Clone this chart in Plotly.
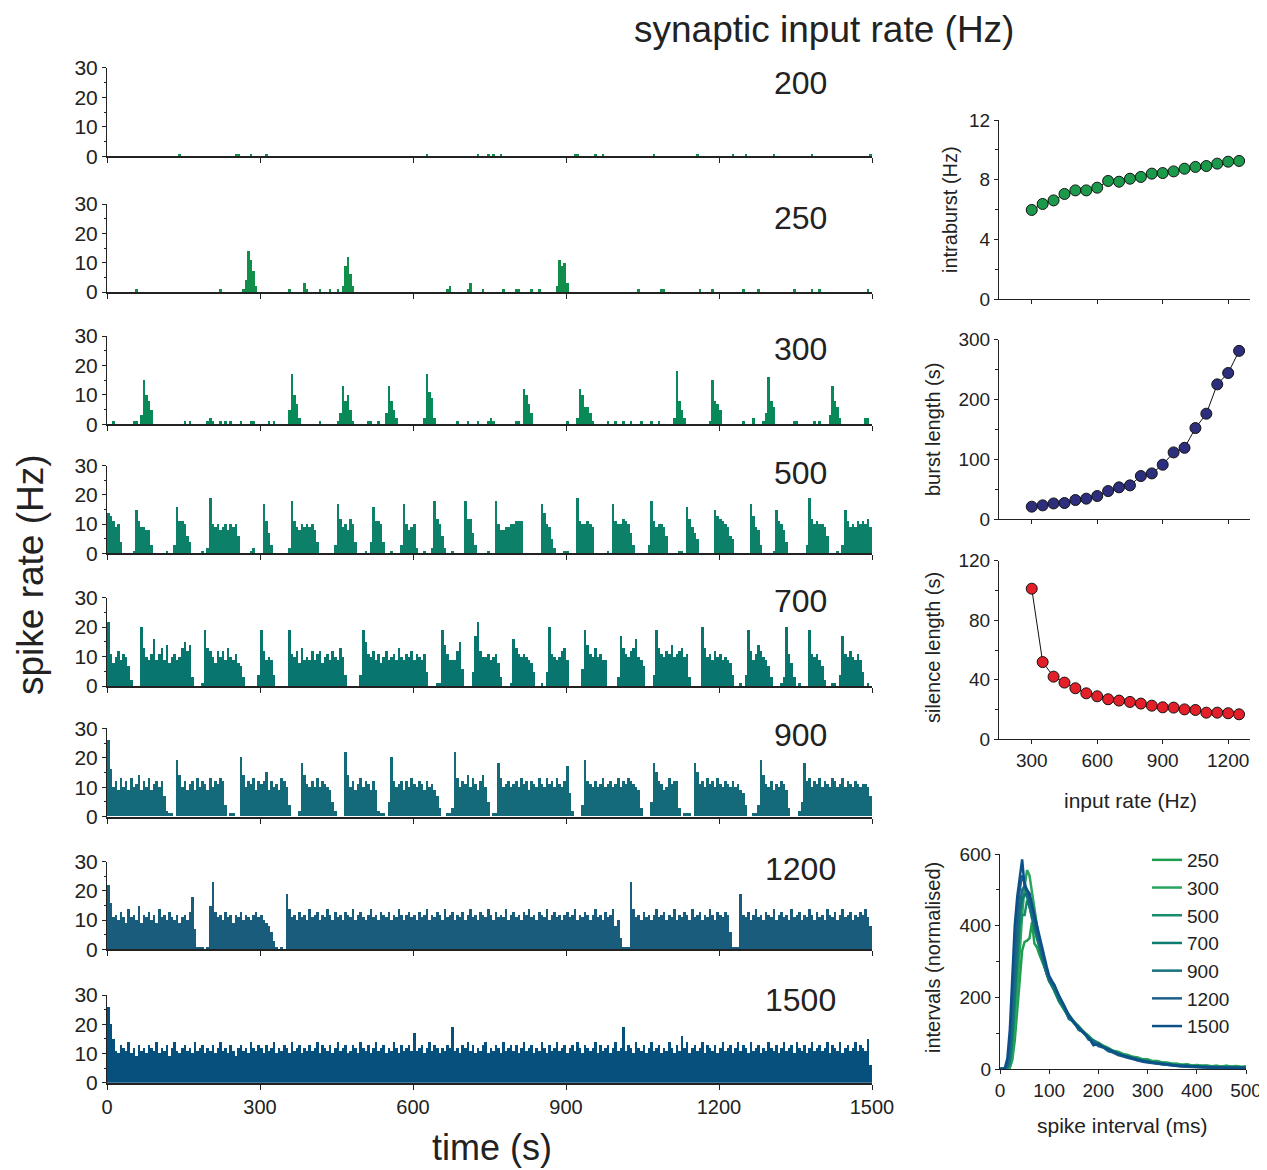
import plotly.graph_objects as go

# The page body adds an 8 px margin, so the figure is 8 px smaller and all
# pixel positions below (measured on the 1267x1170 target) are shifted by 8 px.
PAGE_W, PAGE_H = 1267, 1170
OFF = 8
W, H = PAGE_W - OFF, PAGE_H - OFF
FONT = "Liberation Sans, Arial, Helvetica, sans-serif"
INK = "#222222"

# ---------------------------------------------------------------- left panels
input_rates = [200, 250, 300, 500, 700, 900, 1200, 1500]
panel_colors = ["#108e4a", "#108e4a", "#088a58", "#0c8068",
                "#08766e", "#146a78", "#1a5c7c", "#06507e"]
bin_width = 5          # s
t_max = 1500           # s
time_ticks = [0, 300, 600, 900, 1200, 1500]

# spike-rate histograms (Hz), stored as (segment start in s, values of consecutive 5 s bins)
r200 = [(140, [1]), (250, [1, 1]), (280, [1]), (310, [1]), (625, [1]), (725, [1]),
        (745, [1]), (755, [1]), (770, [1]), (915, [1, 1]), (955, [1]), (970, [1]),
        (1070, [1]), (1155, [1]), (1225, [1]), (1250, [1]), (1305, [1]), (1380, [1]),
        (1495, [1])]

r250 = [(55, [1]), (220, [1]), (265, [1, 4, 14, 11, 7, 2]), (355, [1]), (385, [3, 1]),
        (415, [1]), (435, [1]), (450, [1]), (460, [2, 9, 12, 6, 2]), (665, [1, 2]),
        (705, [1, 3]), (735, [1]), (775, [1]), (800, [1, 1]), (830, [1]), (845, [1]),
        (880, [2, 11, 9, 10, 3]), (1040, [1]), (1085, [1, 1]), (1160, [1]), (1185, [1]),
        (1245, [1]), (1275, [1]), (1345, [1]), (1380, [1]), (1395, [1]), (1490, [1])]

r300 = [(10, [1]), (50, [1, 1]), (65, [3, 15, 10, 8, 5]), (150, [1]), (160, [1]),
        (195, [1, 2, 1]), (220, [1]), (230, [1]), (240, [1]), (260, [1]), (280, [1, 1]),
        (315, [1]), (325, [1]), (355, [5, 17, 10, 7, 2]), (415, [1]),
        (450, [1, 4, 13, 8, 10, 5, 1]), (510, [1, 1]), (530, [1]), (545, [4, 13, 8, 5, 2]),
        (620, [2, 17, 11, 9, 2]), (685, [1]), (705, [1]), (725, [1]), (745, [1, 2, 1]),
        (800, [1, 1]), (815, [12, 10, 7, 4]), (900, [1]), (920, [2, 12, 10, 6, 6, 4, 1]),
        (980, [1]), (995, [1]), (1010, [1]), (1025, [1]), (1045, [1]), (1065, [1]),
        (1080, [1]), (1110, [2, 18, 8, 5, 2]), (1180, [1, 15, 8, 7, 5]), (1245, [1]),
        (1265, [2]), (1285, [1, 4, 16, 8, 6]), (1345, [1, 1]), (1385, [1]), (1395, [1]),
        (1415, [3, 13, 8, 6, 2]), (1485, [2, 2])]

r500 = [(0, [14, 13, 11, 9, 10, 4]), (50, [1, 15, 11, 9, 9, 8, 8, 3]), (115, [1]),
        (130, [3, 16, 11, 11, 10, 6, 4]), (185, [1]),
        (195, [2, 19, 10, 9, 10, 8, 9, 10, 8, 10, 9, 10, 6]), (280, [1, 2]),
        (305, [17, 11, 7, 3]), (355, [2, 18, 11, 9, 8, 10, 9, 10, 9, 10, 8, 4]),
        (445, [3, 17, 12, 9, 10, 8, 12, 10, 4]), (505, [1]), (515, [4, 16, 11, 11, 10, 4]),
        (555, [1]), (575, [3, 17, 10, 8, 9, 10, 2]), (620, [1]), (635, [2, 18, 12, 10, 6, 2]),
        (675, [1]), (700, [18, 12, 12, 7, 3]), (745, [1]),
        (760, [18, 10, 8, 8, 9, 9, 10, 10, 11, 11, 11]), (850, [17, 14, 10, 9, 5, 2]),
        (895, [1, 1]), (920, [19, 11, 10, 10, 11, 10, 9]), (980, [1]),
        (990, [17, 11, 10, 10, 12, 11, 10, 7, 3]), (1060, [3, 18, 11, 9, 10, 10, 9, 6]),
        (1120, [1, 1]), (1135, [16, 12, 9, 7, 5]), (1190, [15, 13, 12, 11, 10, 9, 6, 5]),
        (1260, [17, 13, 9, 8, 3]), (1305, [1, 15, 11, 10, 8, 4]),
        (1370, [3, 19, 12, 10, 11, 10, 10, 9, 6]), (1430, [1]),
        (1440, [3, 15, 11, 9, 10, 9, 11, 10, 11, 10, 12, 9])]

r700 = [(0, [22, 11, 8, 10, 12, 9, 11, 10, 7, 2]),
        (65, [20, 13, 10, 9, 11, 16, 9, 11, 13, 9, 14, 8, 10, 11, 9, 10, 13, 15, 12, 14, 3]),
        (185, [1, 19, 13, 12, 10, 8, 12, 10, 12, 9, 13, 10, 9, 11, 8, 7, 3]),
        (295, [4, 19, 12, 9, 10, 9, 4]),
        (355, [19, 11, 10, 12, 8, 13, 9, 10, 9, 12, 9, 11, 12, 8, 10, 11, 9, 12, 10, 9, 13, 10, 4]),
        (495, [4, 19, 15, 11, 10, 12, 9, 11, 8, 10, 12, 9, 10, 11, 9, 13, 10, 9, 11, 10, 12,
               9, 11, 10, 9, 11, 5]),
        (645, [1, 1, 19, 14, 11, 9, 9, 9, 12, 15, 6]),
        (715, [5, 17, 22, 12, 10, 10, 11, 9, 10, 11, 8, 3]),
        (790, [1, 16, 13, 11, 10, 11, 10, 9, 8, 5]), (850, [1]),
        (860, [5, 20, 11, 10, 9, 10, 12, 13, 9]),
        (930, [6, 19, 14, 11, 10, 13, 10, 11, 9, 9]),
        (1000, [3, 17, 13, 11, 10, 12, 13, 16, 10, 9, 7]),
        (1070, [4, 19, 13, 11, 10, 12, 11, 14, 10, 11, 12, 13, 10, 11, 3]),
        (1165, [20, 13, 10, 11, 9, 12, 10, 11, 9, 10, 9, 8, 4]), (1240, [1]),
        (1250, [4, 19, 12, 9, 11, 14, 12, 10, 9, 7, 3]), (1320, [1]),
        (1325, [3, 20, 11, 8, 3]), (1355, [1]), (1375, [19, 11, 10, 11, 9, 7, 2]),
        (1420, [1, 1]), (1435, [4, 17, 11, 10, 12, 10, 9, 11, 9, 5]), (1490, [1])]

r900 = [(0, [26, 16, 10, 12, 9, 13, 10, 12, 9, 13, 10, 11, 14, 9, 12, 10, 13, 9, 11, 12,
             10, 12, 7, 2]),
        (120, [1, 1]),
        (135, [19, 14, 10, 12, 9, 11, 12, 9, 13, 10, 12, 11, 9, 13, 10, 12, 11, 13, 12, 4]),
        (240, [1, 1]),
        (260, [20, 14, 10, 12, 11, 13, 9, 12, 11, 12, 15, 9, 12, 10, 11, 9, 13, 12, 10, 4]),
        (375, [2, 18, 14, 11, 10, 12, 10, 13, 10, 12, 11, 10, 9, 5, 2]),
        (465, [22, 14, 10, 12, 9, 11, 13, 10, 12, 11, 9, 12, 9, 2]),
        (535, [1, 1]),
        (550, [5, 20, 12, 10, 11, 12, 9, 12, 10, 13, 11, 10, 12, 11, 9, 12, 10, 11, 9, 7, 3]),
        (665, [1, 1]),
        (675, [3, 22, 13, 10, 12, 11, 14, 10, 13, 11, 9, 12, 14, 10, 5]),
        (755, [1, 1]),
        (765, [18, 13, 10, 11, 12, 10, 11, 12, 10, 13, 11, 12, 9, 12, 11, 10, 13, 11, 10, 13,
               11, 12, 10, 13, 11, 10, 12, 17, 8, 2]),
        (930, [4, 19, 12, 11, 10, 12, 10, 11, 13, 10, 11, 12, 10, 11, 13, 10, 12, 11, 13, 12,
               11, 10, 9, 3]),
        (1065, [5, 18, 15, 12, 11, 9, 10, 13, 11, 12, 12, 3]),
        (1130, [1, 1, 1]),
        (1150, [18, 15, 11, 12, 10, 13, 11, 12, 10, 13, 11, 10, 12, 11, 10, 12, 10, 11, 9, 8, 4]),
        (1265, [1, 1]),
        (1275, [4, 19, 14, 11, 10, 12, 9, 11, 10, 12, 11, 9, 3]),
        (1355, [2, 5, 18, 12, 13, 10, 12, 11, 13, 10, 12, 11, 10, 13, 12, 10, 11, 13, 10, 12,
                11, 10, 12, 11, 10, 11, 11, 10, 7])]

r1200 = [(0, [22, 16, 11, 12, 10, 13, 11, 9, 14, 11, 12, 10, 15, 9, 12, 11, 13, 10, 12, 9,
              14, 11, 12, 10, 13, 11, 10, 12, 9, 11, 12, 10, 13, 18, 7, 1]),
         (180, [1, 1, 0, 1]),
         (200, [15, 23, 13, 11, 12, 10, 13, 11, 12, 9, 12, 11, 13, 10, 12, 11, 10, 12, 13, 11,
                12, 10, 9, 8, 6, 3]),
         (330, [1, 0, 1, 0]),
         (350, [19, 14, 11, 12, 10, 13, 11, 12, 10, 14, 11, 12, 13, 10, 12, 11, 14, 12, 10, 13,
                11, 12, 10, 13, 12, 11, 14, 10, 12, 13, 11, 10, 12, 14, 11, 12, 10, 13, 12, 11,
                13, 10, 12, 11, 14, 12, 10, 12, 13, 11, 12, 10, 13, 11, 12, 14, 10, 12, 11, 13,
                12, 10, 14, 11, 12, 13, 10, 12, 11, 13, 10, 12, 14, 11, 12, 10, 13, 12, 11, 14,
                12, 10, 13, 11, 12, 11, 14, 10, 12, 13, 11, 12, 10, 13, 12, 14, 11, 12, 10, 13,
                12, 11, 14, 10, 12, 13, 11, 12, 10, 12, 13, 11, 12, 14, 10, 12, 11, 13, 12, 10,
                12, 14, 11, 12, 10, 13, 11, 12, 14, 8]),
         (1000, [10, 4, 1, 1, 1, 23, 14, 11, 12, 10, 13, 11, 12, 10, 12, 14, 11, 12, 13, 10,
                 12, 11, 14, 10, 12, 11, 13, 12, 10, 14, 11, 12, 13, 10, 12, 11, 14, 12, 10, 13,
                 12, 11, 13, 12]),
         (1220, [6, 1, 1, 1]),
         (1240, [19, 12, 11, 13, 10, 12, 14, 11, 12, 10, 13, 12, 11, 14, 10, 12, 13, 11, 12, 10,
                 14, 11, 12, 13, 10, 12, 11, 14, 12, 10, 13, 11, 12, 10, 14, 12, 11, 13, 10, 12,
                 14, 11, 12, 13, 10, 12, 11, 13, 12, 14, 11, 8])]

r1500 = [(0, [26, 20, 15, 11, 10, 13, 12, 11, 14, 10, 12, 9, 13, 11, 12, 10, 13, 12, 11, 14,
              10, 12, 11, 13, 9, 12, 14, 11, 10, 12, 13, 11, 12, 10, 14, 11, 12, 13, 10, 12,
              11, 13, 10, 12, 14, 11, 12, 10, 13, 11, 9, 12, 13, 11, 12, 10, 14, 12, 11, 13,
              12, 10, 13, 11, 12, 14, 10, 12, 11, 13, 12, 10, 14, 11, 12, 13, 10, 12, 11, 13,
              11, 12, 14, 10, 13, 12, 11, 13, 10, 12, 14, 11, 12, 13, 10, 11, 13, 12, 10, 14,
              12, 11, 13, 10, 12, 14, 11, 12, 13, 10, 12, 11, 14, 12, 10, 13, 11, 12, 13, 11,
              17, 11, 12, 13, 10, 12, 14, 11, 13, 12, 10, 12, 11, 13, 12, 19, 11, 12, 10, 13,
              12, 14, 11, 13, 10, 12, 11, 13, 14, 10, 12, 11, 13, 12, 10, 14, 11, 12, 13, 11,
              13, 10, 12, 14, 11, 12, 13, 10, 12, 11, 14, 12, 10, 13, 11, 12, 14, 11, 12, 13,
              10, 12, 13, 11, 14, 12, 10, 13, 12, 11, 12, 14, 10, 13, 11, 12, 13, 10, 12, 14,
              11, 12, 19, 11, 13, 12, 10, 14, 12, 11, 13, 10, 12, 14, 11, 12, 13, 10, 12, 11,
              14, 12, 10, 13, 11, 16, 12, 14, 10, 12, 13, 11, 12, 14, 10, 13, 12, 11, 13, 10,
              12, 14, 11, 12, 13, 10, 12, 14, 11, 13, 12, 10, 14, 11, 12, 13, 10, 12, 11, 14,
              12, 11, 13, 10, 12, 14, 11, 12, 13, 10, 14, 12, 11, 13, 10, 12, 14, 11, 12, 13,
              11, 12, 14, 10, 13, 12, 11, 14, 10, 12, 13, 11, 12, 14, 11, 13, 12, 11, 15, 6])]

histograms = [r200, r250, r300, r500, r700, r900, r1200, r1500]

# ---------------------------------------------------------------- right panels
input_rate_axis = [300, 350, 400, 450, 500, 550, 600, 650, 700, 750,
                   800, 850, 900, 950, 1000, 1050, 1100, 1150, 1200, 1250]
intraburst_hz = [5.98, 6.38, 6.62, 7.05, 7.29, 7.29, 7.47, 7.92, 7.87, 8.07,
                 8.19, 8.41, 8.45, 8.56, 8.74, 8.86, 8.92, 9.08, 9.21, 9.26]
burst_length_s = [20.6, 22.8, 26.0, 26.7, 31.7, 34.0, 38.4, 46.7, 52.9, 56.2,
                  71.8, 76.2, 90.7, 111.3, 119.0, 152.0, 176.0, 225.0, 244.0, 281.0]
silence_length_s = [101.2, 51.9, 42.1, 38.1, 34.3, 30.9, 28.9, 26.9, 26.0, 25.1,
                    24.0, 22.6, 21.5, 21.3, 20.1, 19.7, 17.9, 17.9, 17.5, 16.8]

isi_ms = [0, 5, 10, 15, 20, 25, 30, 35, 40, 45, 50, 55, 60, 65, 70, 75, 80, 85, 90, 95, 100,
          110, 120, 130, 140, 150, 160, 170, 180, 190, 200, 210, 220, 230, 240, 250, 260, 270,
          280, 290, 300, 310, 320, 330, 340, 350, 360, 370, 380, 390, 400, 410, 420, 430, 440,
          450, 460, 470, 480, 490, 500]
isi_labels = ["250", "300", "500", "700", "900", "1200", "1500"]
isi_colors = ["#1f9d4f", "#2aa45e", "#198c6c", "#0c7b70", "#17707e", "#1d5f8a", "#0c5089"]
isi_250 = [0, 0, 0, 0, 3, 25, 80, 170, 260, 330, 355, 358, 365, 410, 350, 340, 320, 300, 285, 268, 250,
           222, 196, 168, 152, 133, 120, 104, 93, 80, 74, 65, 59, 51, 48, 42, 39, 34, 32, 27, 27,
           22, 22, 18, 18, 15, 15, 12, 13, 10, 11, 9, 10, 8, 9, 7, 9, 7, 8, 6, 7]
isi_300 = [0, 0, 0, 0, 5, 35, 110, 220, 340, 430, 510, 555, 540, 490, 440, 395, 355, 320, 292, 268, 248,
           218, 190, 166, 146, 128, 116, 100, 90, 78, 71, 63, 56, 50, 45, 41, 36, 33, 30, 26, 25,
           21, 20, 17, 16, 14, 14, 11, 12, 10, 10, 8, 9, 7, 8, 6, 8, 6, 7, 5, 6]
isi_500 = [0, 0, 0, 2, 15, 70, 180, 300, 400, 430, 430, 470, 455, 420, 390, 365, 340, 312, 288, 265, 245,
           220, 188, 168, 143, 130, 112, 101, 86, 77, 70, 60, 55, 47, 44, 38, 35, 30, 28, 24, 22,
           19, 18, 15, 14, 12, 12, 10, 10, 8, 8, 7, 7, 6, 6, 5, 6, 4, 5, 4, 5]
isi_700 = [0, 0, 0, 5, 25, 100, 220, 340, 430, 470, 490, 480, 455, 425, 395, 368, 340, 312, 288, 265, 245,
           225, 192, 170, 140, 131, 110, 102, 84, 78, 68, 61, 53, 48, 42, 38, 33, 30, 26, 23, 21,
           18, 16, 14, 13, 11, 11, 9, 9, 7, 7, 6, 6, 5, 5, 4, 5, 4, 4, 3, 4]
isi_900 = [0, 0, 1, 8, 40, 140, 270, 380, 450, 500, 510, 490, 465, 435, 405, 375, 345, 318, 292, 268, 248,
           230, 198, 175, 142, 133, 109, 104, 82, 80, 66, 62, 51, 48, 40, 37, 31, 29, 24, 22, 19,
           17, 15, 13, 11, 10, 9, 8, 7, 6, 6, 5, 5, 4, 4, 3, 4, 3, 3, 2, 3]
isi_1200 = [0, 0, 2, 15, 70, 190, 330, 430, 500, 540, 520, 500, 475, 445, 415, 385, 355, 325, 298, 272, 252,
            236, 202, 178, 148, 131, 113, 100, 86, 75, 64, 60, 50, 46, 39, 35, 30, 27, 23, 20, 18,
            16, 14, 12, 10, 9, 8, 7, 6, 5, 5, 4, 4, 3, 3, 3, 3, 2, 2, 2, 2]
isi_1500 = [0, 0, 3, 30, 110, 260, 400, 480, 530, 585, 510, 500, 490, 460, 430, 400, 370, 340, 312, 285, 260,
            235, 205, 178, 150, 130, 115, 100, 88, 66, 70, 62, 55, 48, 43, 38, 33, 30, 26, 22, 20,
            18, 16, 14, 12, 11, 10, 9, 8, 7, 6, 6, 5, 5, 4, 4, 4, 3, 3, 3, 3]
isi_series = [isi_250, isi_300, isi_500, isi_700, isi_900, isi_1200, isi_1500]

# ---------------------------------------------------------------- geometry (target pixels)
left_x = (107, 872)
panel_tops = [67.7, 204, 336, 465.7, 597.7, 728.3, 861.7, 995]
panel_bottoms = [156.3, 292, 424.3, 553.3, 686, 816.7, 949.3, 1082.7]
label_y = [83, 218, 349, 473, 601, 735, 869, 1000]


def px(x):
    return (x - OFF) / W


def py(y):
    return 1 - (y - OFF) / H


def xd(a, b):
    return [px(a), px(b)]


def yd(top, bottom):
    return [py(bottom), py(top)]


def expand(segments):
    vals = [0] * (t_max // bin_width)
    for start, seg in segments:
        i0 = start // bin_width
        for k, v in enumerate(seg):
            if 0 <= i0 + k < len(vals):
                vals[i0 + k] = v
    return vals


fig = go.Figure()
layout = dict(width=W, height=H, margin=dict(l=0, r=0, t=0, b=0, autoexpand=False),
              paper_bgcolor="white", plot_bgcolor="rgba(0,0,0,0)",
              font=dict(family=FONT, color=INK), bargap=0, barmode="overlay",
              showlegend=True)
annotations = []

for i, (rate, segs, col) in enumerate(zip(input_rates, histograms, panel_colors)):
    n = i + 1
    xs = "x" if n == 1 else f"x{n}"
    ys = "y" if n == 1 else f"y{n}"
    vals = expand(segs)
    centers = [k * bin_width + bin_width / 2 for k in range(len(vals))]
    fig.add_trace(go.Bar(x=centers, y=vals, width=bin_width, xaxis=xs, yaxis=ys,
                         marker=dict(color=col, line=dict(width=0)), showlegend=False,
                         hoverinfo="skip"))
    bottom = (n == len(input_rates))
    layout["xaxis" if n == 1 else f"xaxis{n}"] = dict(
        domain=xd(*left_x), range=[0, t_max], anchor=ys, showline=True, linecolor=INK,
        linewidth=2, ticks="outside", ticklen=5, tickcolor=INK, tickwidth=1,
        tickvals=time_ticks, showticklabels=bottom, tickfont=dict(size=20),
        showgrid=False, zeroline=False, fixedrange=True, automargin=False)
    layout["yaxis" if n == 1 else f"yaxis{n}"] = dict(
        domain=yd(panel_tops[i], panel_bottoms[i]), range=[0, 30], anchor=xs,
        showline=True, linecolor=INK, linewidth=1, ticks="outside", ticklen=4,
        tickcolor=INK, tickvals=[0, 10, 20, 30], tickfont=dict(size=21),
        minor=dict(tickvals=[5, 15, 25], ticks="outside", ticklen=2.5, tickcolor=INK),
        showgrid=False, zeroline=False, fixedrange=True, automargin=False)
    annotations.append(dict(text=str(rate), x=px(801), y=py(label_y[i]), xref="paper",
                            yref="paper", showarrow=False, font=dict(size=32, color=INK),
                            xanchor="center", yanchor="middle"))

# right-hand scatter panels
right_specs = [
    (intraburst_hz, "#1b9a4b", (120, 299.3), [0, 12], [0, 4, 8, 12], [2, 6, 10], False),
    (burst_length_s, "#2e2f7c", (339.5, 519), [0, 300], [0, 100, 200, 300], [50, 150, 250], False),
    (silence_length_s, "#e3202a", (560.7, 739.3), [0, 120], [0, 40, 80, 120], [20, 60, 100], True),
]
for j, (vals, col, (top, bot), yr, ytv, ymin, labels) in enumerate(right_specs):
    n = 9 + j
    fig.add_trace(go.Scatter(x=input_rate_axis, y=vals, xaxis=f"x{n}", yaxis=f"y{n}",
                             mode="lines+markers", line=dict(color="#111111", width=1),
                             marker=dict(size=11, color=col, line=dict(color="#111111", width=1)),
                             showlegend=False, hoverinfo="skip", cliponaxis=False))
    layout[f"xaxis{n}"] = dict(domain=xd(999, 1250), range=[150, 1300], anchor=f"y{n}",
                               showline=True, linecolor=INK, linewidth=1.2, ticks="outside",
                               ticklen=4, tickcolor=INK, tickvals=[300, 600, 900, 1200],
                               showticklabels=labels, tickfont=dict(size=19),
                               showgrid=False, zeroline=False, fixedrange=True,
                               automargin=False)
    layout[f"yaxis{n}"] = dict(domain=yd(top, bot), range=yr, anchor=f"x{n}",
                               showline=True, linecolor=INK, linewidth=1.2, ticks="outside",
                               ticklen=4, tickcolor=INK, tickvals=ytv, tickfont=dict(size=19),
                               minor=dict(tickvals=ymin, ticks="outside", ticklen=2.5,
                                          tickcolor=INK),
                               showgrid=False, zeroline=False, fixedrange=True,
                               automargin=False)

# ISI distributions
for lab, col, vals in zip(isi_labels, isi_colors, isi_series):
    fig.add_trace(go.Scatter(x=isi_ms, y=vals, xaxis="x12", yaxis="y12", mode="lines",
                             name=lab, line=dict(color=col, width=2.5), hoverinfo="skip",
                             cliponaxis=False))
layout["xaxis12"] = dict(domain=xd(1000, 1246), range=[0, 500], anchor="y12", showline=True,
                         linecolor=INK, linewidth=1.2, ticks="outside", ticklen=4,
                         tickcolor=INK, tickvals=[0, 100, 200, 300, 400, 500],
                         tickfont=dict(size=19), showgrid=False, zeroline=False,
                         fixedrange=True, automargin=False)
layout["yaxis12"] = dict(domain=yd(854, 1069), range=[0, 600], anchor="x12", showline=True,
                         linecolor=INK, linewidth=1.2, ticks="outside", ticklen=4,
                         tickcolor=INK, tickvals=[0, 200, 400, 600], tickfont=dict(size=19),
                         minor=dict(tickvals=[100, 300, 500], ticks="outside", ticklen=2.5,
                                    tickcolor=INK),
                         showgrid=False, zeroline=False, fixedrange=True, automargin=False)
layout["legend"] = dict(x=px(1147), y=py(841), xanchor="left", yanchor="top",
                        bgcolor="rgba(0,0,0,0)", borderwidth=0, font=dict(size=19, color=INK),
                        tracegroupgap=0)


def add_text(text, x, y, size, angle=0):
    annotations.append(dict(text=text, x=px(x), y=py(y), xref="paper", yref="paper",
                            showarrow=False, textangle=angle, font=dict(size=size, color=INK),
                            xanchor="center", yanchor="middle"))


add_text("synaptic input rate (Hz)", 824, 29, 37)
add_text("spike rate (Hz)", 30, 575, 37, -90)
add_text("time (s)", 492, 1147, 36)
add_text("intraburst (Hz)", 950, 210, 20, -90)
add_text("burst length (s)", 933, 430, 20, -90)
add_text("silence length (s)", 933, 648, 20, -90)
add_text("intervals (normalised)", 933, 958, 20, -90)
add_text("input rate (Hz)", 1130, 800, 21)
add_text("spike interval (ms)", 1122, 1125, 21)

layout["annotations"] = annotations
fig.update_layout(**layout)
fig.write_html("out.html")
